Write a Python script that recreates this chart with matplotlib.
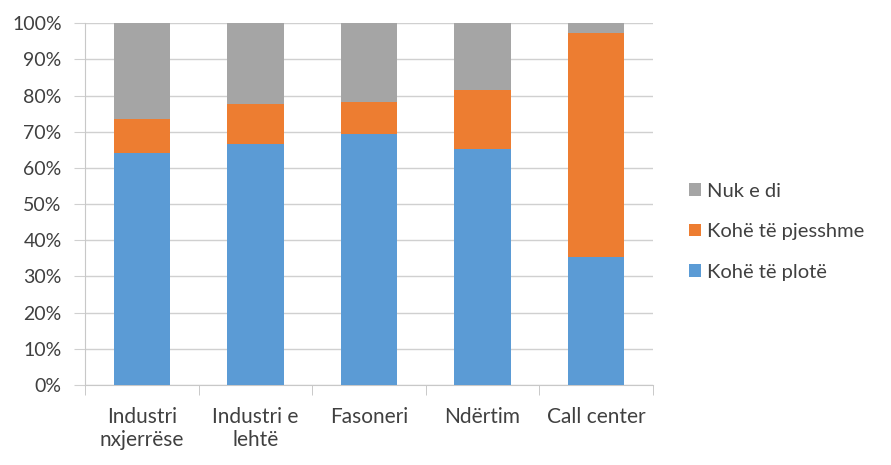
import matplotlib
matplotlib.use("Agg")
import matplotlib.pyplot as plt
import numpy as np
from matplotlib.ticker import FixedLocator, PercentFormatter

categories = ["Industri\nnxjerrëse", "Industri e\nlehtë", "Fasoneri", "Ndërtim", "Call center"]
full_time = [64.2, 66.6, 69.3, 65.2, 35.5]
part_time = [9.2, 11.0, 9.0, 16.4, 61.7]
dont_know = [26.6, 22.4, 21.7, 18.4, 2.8]
series_names = ["Kohë të plotë", "Kohë të pjesshme", "Nuk e di"]
colors = ["#5B9BD5", "#ED7D31", "#A5A5A5"]

plt.rcParams["font.family"] = ["Lato", "DejaVu Sans"]
text_color = "#404040"

fig = plt.figure(figsize=(8.91, 4.65), dpi=100)
ax = fig.add_axes([0.0957, 0.172, 0.637, 0.778])

x = np.arange(len(categories))
bottom = np.zeros(len(categories))
handles = []
for vals, name, col in zip([full_time, part_time, dont_know], series_names, colors):
    b = ax.bar(x, vals, width=0.5, bottom=bottom, color=col, label=name, zorder=3)
    handles.append(b)
    bottom += np.array(vals)

ax.set_xlim(-0.5, len(categories) - 0.5)
ax.set_ylim(0, 100)
ax.set_yticks(np.arange(0, 101, 10))
ax.yaxis.set_major_formatter(PercentFormatter(decimals=0))
ax.yaxis.grid(True, color="#D0D0D0", linewidth=1.0, zorder=0)

ax.set_xticks(x)
ax.set_xticklabels(categories, fontsize=15, color=text_color, linespacing=1.2)
ax.xaxis.set_minor_locator(FixedLocator(np.arange(-0.5, len(categories), 1.0)))
ax.tick_params(axis="x", which="major", length=0, pad=16)
ax.tick_params(axis="x", which="minor", length=7, color="#C0C0C0")
ax.tick_params(axis="y", length=8, color="#D0D0D0", labelsize=14,
               labelcolor=text_color, pad=9)

for s in ["top", "right"]:
    ax.spines[s].set_visible(False)
ax.spines["left"].set_color("#C8C8C8")
ax.spines["bottom"].set_color("#C8C8C8")

fig.legend(handles[::-1], series_names[::-1], loc="center left",
           bbox_to_anchor=(0.773, 0.502), frameon=False, fontsize=14.5,
           handlelength=0.6, handleheight=0.6, handletextpad=0.3,
           labelspacing=1.17, borderpad=0, borderaxespad=0,
           labelcolor=text_color)

fig.savefig("out.png", dpi=100)
